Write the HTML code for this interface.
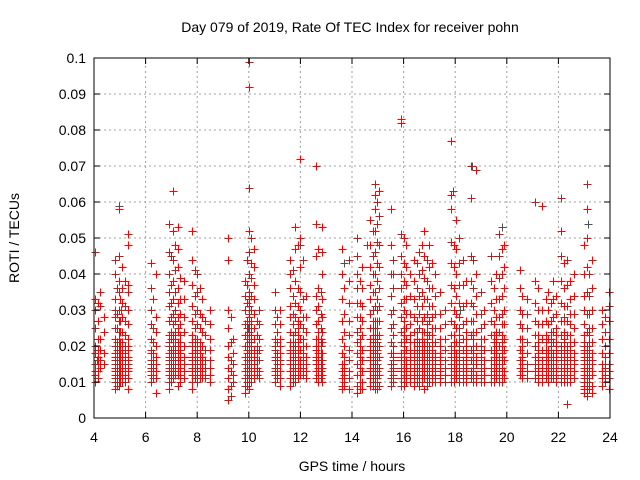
<!DOCTYPE html>
<html><head><meta charset="utf-8"><style>
body{margin:0;background:#fff}
svg{display:block;font-family:"Liberation Sans",sans-serif}
</style></head><body>
<svg id="chart" width="640" height="480">
<rect width="640" height="480" fill="#fff"/>
<text x="350" y="32" text-anchor="middle" font-size="14">Day 079 of 2019, Rate Of TEC Index for receiver pohn</text>
<text x="352" y="471" text-anchor="middle" font-size="14">GPS time / hours</text>
<text transform="translate(19,238) rotate(-90)" text-anchor="middle" font-size="14">ROTI / TECUs</text>
<g id="grid"></g><g id="gray"></g><g id="red"></g><g id="axes"></g>
</svg>
<script>
const xTicks=[4,6,8,10,12,14,16,18,20,22,24];
const yTicks=[0,0.01,0.02,0.03,0.04,0.05,0.06,0.07,0.08,0.09,0.1];
const yTickLabels=["0","0.01","0.02","0.03","0.04","0.05","0.06","0.07","0.08","0.09","0.1"];
const redTimes=[4.05,4.25,4.4,4.8,4.95,5.1,5.3,6.2,6.4,6.9,7.05,7.25,7.5,7.8,8.0,8.2,8.5,9.2,9.4,9.85,10.0,10.2,10.4,11.0,11.2,11.6,11.8,12.0,12.2,12.6,12.85,13.6,13.9,14.2,14.4,14.7,14.9,15.05,15.5,15.9,16.1,16.4,16.6,16.8,17.0,17.2,17.6,17.85,18.05,18.3,18.6,18.8,19.1,19.4,19.7,19.9,20.5,20.8,21.1,21.35,21.6,21.8,22.1,22.35,22.6,23.1,23.3,23.7,23.95];
const redRotiMilli=[
[46,33,30,25,20,18,15,13,12,10],[35,31,22,19,16,14],[28,24,18,15],
[44,40,33,30,28,25,22,20,18,17,16,15,14,13,12,11,10,8],[58,45,38,35,30,27,24,22,20,19,17,16,15,14,13,12,11,9],[42,36,32,28,24,21,19,18,17,16,15,14,13,12,11,10],[51,48,37,35,30,26,22,20,19,17,16,15,14,13,11,8],
[43,36,30,26,22,19,18,16,15,14,13,12,10],[40,28,24,20,17,15,13,11,7],
[54,46,40,35,31,27,23,21,20,18,17,16,15,14,13,12,10,8],[63,52,44,38,33,29,26,23,22,20,19,17,16,15,14,13,11],[53,47,42,36,32,28,25,24,21,20,18,17,16,14,13,12,9],[38,33,28,24,20,17,15,13,11],
[52,44,37,31,27,23,21,20,18,17,16,15,14,13,12,10,8],[40,35,30,26,22,20,19,17,16,15,14,12,10],[33,28,24,20,17,15,13,11],[30,26,22,19,16,14,12,10],
[50,44,30,25,20,17,14,11,8,5],[22,18,15,12,10],
[38,34,30,26,23,20,17,15,13,11,9,7],[99,92,64,52,46,40,35,33,31,29,28,26,24,22,21,19,18,16,15,14,13,12,10,8],[47,42,37,33,29,25,22,19,17,15,13,11],[30,26,22,19,16,13,11],
[35,30,26,22,20,19,17,16,14,13,12,10],[30,26,22,20,18,16,15,13,11,9],[44,40,36,31,28,24,21,19,18,16,15,13,11,9],[53,47,38,32,28,24,21,19,18,16,15,14,12,10],[72,50,42,35,30,26,22,19,16,14,12],[34,28,24,20,17,15,13,11],
[70,54,45,34,30,26,22,20,19,17,16,15,13,11],[53,46,40,33,28,24,21,18,16,14,12,10],
[47,40,33,27,22,18,15,13,11,9,8],[44,38,32,27,23,19,16,13,11,8],[50,45,40,36,32,28,24,21,18,15,12,9,7],[42,36,31,27,23,19,16,13,10,8],
[55,48,42,37,33,29,25,22,20,19,17,16,14,13,11,9],[65,62,58,52,46,40,35,31,27,25,23,21,20,18,17,15,14,12,10,8],[63,56,48,42,36,31,27,23,20,17,14,12,9],
[58,48,40,34,29,25,21,18,15,13,11,9],[83,82,51,45,40,36,32,28,24,21,18,17,16,14,13,11,9],[48,42,37,33,29,25,22,19,16,14,12,10],
[44,38,33,28,24,21,19,18,16,15,13,11,9],[46,40,34,29,25,21,19,18,16,14,13,11,9],[52,45,39,33,28,24,21,19,18,16,15,13,11,8],[48,42,36,31,27,23,20,19,17,15,14,12,10],[40,34,29,25,21,18,16,14,12,10],
[30,26,22,19,16,14,12,10],[77,62,58,49,43,37,32,27,23,20,18,17,15,14,12,10],[55,47,40,34,29,25,21,18,16,14,13,11],[44,37,31,26,22,19,16,14,12,10],
[70,61,45,38,32,27,23,19,16,13,11],[69,40,34,29,24,20,17,15,12,10],[30,26,22,19,16,14,12,10],
[45,38,32,27,23,19,16,14,12,10],[51,45,39,33,28,24,20,17,15,13,12,10],[48,42,36,30,26,22,19,16,13,11],
[41,36,30,26,22,19,16,14,12],[33,29,25,21,18,15,13,11],[60,38,32,27,23,20,17,15,13,11],[59,30,26,22,19,16,14,12,10],
[35,30,26,22,19,17,16,14,12,10],[38,33,28,24,21,18,16,15,13,11],[61,52,45,38,32,27,23,20,18,17,15,14,12,10],[44,37,31,27,23,20,18,17,15,14,12,10,4],[40,34,29,25,21,18,16,15,13,11],
[65,58,50,42,35,29,24,20,18,17,15,14,12,10,8,6],[44,36,30,25,21,18,16,15,13,12,9,7],[30,26,22,18,15,13,11,9],[35,31,27,22,18,15,13,11,8]];
const redTimesB=[4.15,4.88,5.02,5.2,6.3,7.0,7.15,7.35,7.9,8.1,8.3,9.3,9.93,10.1,10.3,11.1,11.7,11.9,12.1,12.7,12.78,13.7,14.3,14.8,14.97,15.6,16.0,16.25,16.5,16.7,16.9,17.1,17.4,17.95,18.15,18.4,18.7,19.0,19.5,19.6,19.8,20.6,21.2,21.5,21.7,21.9,22.2,22.45,23.0,23.2,23.8];
const redRotiMilliB=[
[32,27,22,19,17,15,13,11],[36,29,25,21,19,17,16,14,13,12,11,10,9],[33,27,24,21,19,17,16,15,14,13,12,11,10],[38,31,27,23,20,18,17,16,15,14,13,12,11,10],
[33,25,21,18,16,15,14,13,12,11],[45,37,32,28,24,22,19,18,17,16,15,14,13,12,11,10],[48,41,35,30,27,24,22,20,19,18,17,16,15,14,12],[39,33,29,26,23,21,19,18,17,16,15,14,13,12,11,10],
[41,34,29,25,22,20,19,18,17,16,15,14,13,12,11],[36,29,25,21,19,18,17,16,15,14,13,12,11],[27,23,19,16,14,12,11],[28,21,16,13,9,6],
[44,37,32,27,25,23,22,20,19,18,17,16,15,14,13,12,11,10,9],[50,43,39,34,30,27,25,23,21,20,18,17,16,15,14,13,12,11,10],[27,23,20,18,16,14,12],
[28,24,21,18,17,16,15,14,13,12,11],[41,34,29,26,23,21,20,18,17,16,15,14,13,12,11,10],[48,36,31,27,25,23,21,20,19,17,16,15,14,13,12,11],[44,33,28,25,22,20,18,17,16,15,14,13,12],
[47,36,31,27,24,22,20,18,17,16,15,14,13,12,11,10],[35,29,25,22,20,18,16,15,14,13,12,11],[36,29,24,20,17,15,14,12,10,9],
[38,32,28,25,22,20,18,17,15,14,12,10,8],[52,45,40,35,30,27,25,23,21,20,19,18,17,16,15,14,13,12,11,10,9],[60,54,49,43,38,33,30,27,25,23,22,21,20,19,18,17,16,15,14,13,12,11,10,9,8],
[44,36,30,26,23,20,18,17,16,15,14,13,12,11,10],[50,43,38,33,30,27,25,23,21,20,19,18,17,16,15,14,13,12,11,10,9],[40,34,29,26,23,21,19,18,17,16,15,14,13,12,11,10],
[43,36,31,27,24,22,20,19,18,17,16,15,14,13,12,11,10],[48,41,35,31,27,24,22,21,20,19,18,17,16,15,14,13,12,11,10],[44,38,33,29,26,24,22,21,20,19,18,17,16,15,14,13,12,11,10,9],
[43,36,31,28,25,23,21,20,19,18,17,16,15,14,13,12,11,10],[35,29,25,22,20,18,17,16,15,14,13,12,11,10],[48,42,36,30,26,23,21,19,18,17,16,15,14,13,12,11,10],[50,43,37,32,28,25,23,21,20,19,18,17,16,15,14,13,12,11,10],
[38,32,27,24,22,20,19,18,17,16,15,14,13,12,11,10],[44,36,31,27,24,22,20,19,18,17,16,15,14,13,12,11,10],[35,29,25,22,20,19,18,17,16,15,14,13,12,11,10],
[36,30,26,23,21,19,18,17,16,15,14,13,12,11,10],[40,33,28,24,22,20,19,18,17,16,15,14,13,12,11],[47,40,34,29,26,23,21,20,19,18,17,16,15,14,13,12,11,10],
[34,29,25,22,20,18,17,16,15,14,13,12,11],[36,30,26,23,21,19,18,17,16,15,14,13,12,11,10],[33,27,23,21,19,18,17,16,15,14,13,12,11],[32,27,24,22,20,19,18,17,16,15,14,13,12,11],[34,29,25,23,21,20,19,18,17,16,15,14,13,12,11,10],
[43,36,31,27,24,22,21,20,19,18,17,16,15,14,13,12,11,10],[38,33,29,26,23,21,20,19,18,17,16,15,14,13,12,11,10],
[48,40,34,30,26,23,21,20,19,18,17,16,15,14,13,12,11,10,9,8,7],[40,34,29,25,23,21,20,19,18,17,16,15,14,13,12,11,10,9,8],[28,24,20,17,15,14,13,12,11,10]];
const grayTimes=[4.95,12.0,14.6,17.9,18.65,19.8,23.15,13.7,5.05,9.95,15.6,16.5,18.2,22.2,4.1,11.1];
const grayRotiMilli=[59,48,48,63,70,53,54,43,30,25,40,20,30,28,16,12];

const X0=94,X1=610,Y0=418,Y1=58;
const xs=t=>X0+(t-4)/20*(X1-X0);
const ys=v=>Y0-v/0.1*(Y0-Y1);
const ysMilli=m=>ys(m/1000);
const NS="http://www.w3.org/2000/svg";
const mk=(tag,attrs,parent)=>{const e=document.createElementNS(NS,tag);for(const k in attrs)e.setAttribute(k,attrs[k]);parent.appendChild(e);return e;};
const grid=document.getElementById('grid'),axes=document.getElementById('axes');
xTicks.forEach((t,i)=>{
  if(i>0&&i<xTicks.length-1){const l=mk('line',{x1:xs(t),x2:xs(t),y1:Y0,y2:Y1,stroke:'#a0a0a0','stroke-dasharray':'2,3'},grid);
  
  }
  mk('line',{x1:xs(t),x2:xs(t),y1:Y0,y2:Y0-6,stroke:'#000'},axes);
  mk('line',{x1:xs(t),x2:xs(t),y1:Y1,y2:Y1+6,stroke:'#000'},axes);
  const tx=mk('text',{x:xs(t),y:Y0+24,'text-anchor':'middle','font-size':14},axes);tx.textContent=t;
  
  
});
yTicks.forEach((v,i)=>{
  if(i>0&&i<yTicks.length-1){const l=mk('line',{x1:X0,x2:X1,y1:ys(v),y2:ys(v),stroke:'#a0a0a0','stroke-dasharray':'2,3'},grid);
  
  }
  mk('line',{x1:X0,x2:X0+6,y1:ys(v),y2:ys(v),stroke:'#000'},axes);
  mk('line',{x1:X1,x2:X1-6,y1:ys(v),y2:ys(v),stroke:'#000'},axes);
  const tx=mk('text',{x:X0-8,y:ys(v)+5,'text-anchor':'end','font-size':14},axes);tx.textContent=yTickLabels[i];
  
  
});
const frame=mk('rect',{x:X0,y:Y1,width:X1-X0,height:Y0-Y1,fill:'none',stroke:'#000'},axes);


function plus(x,y){return `M${x-4},${y}h8M${x},${y-4}v8`;}
let dg='';grayTimes.forEach((t,i)=>{dg+=plus(Math.round(xs(t))+0.5,Math.round(ysMilli(grayRotiMilli[i]))+0.5);});
const pg=mk('path',{d:dg,stroke:'#505050','stroke-width':1,fill:'none','shape-rendering':'crispEdges'},document.getElementById('gray'));


let dr='';
redTimes.forEach((t,i)=>{redRotiMilli[i].forEach(m=>{dr+=plus(Math.round(xs(t))+0.5,Math.round(ysMilli(m))+0.5);});});
redTimesB.forEach((t,i)=>{redRotiMilliB[i].forEach(m=>{dr+=plus(Math.round(xs(t))+0.5,Math.round(ysMilli(m))+0.5);});});
const pr=mk('path',{d:dr,stroke:'#ff0000','stroke-width':1.2,fill:'none','shape-rendering':'crispEdges'},document.getElementById('red'));


</script>
</body></html>
